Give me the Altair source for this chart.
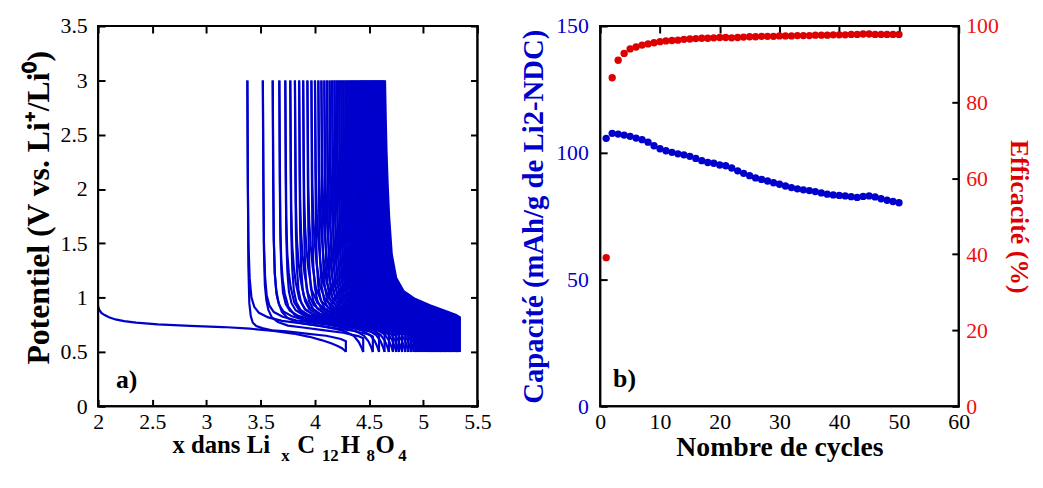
import altair as alt
import pandas as pd

# ---------------- Panel a) : galvanostatic cycling curves ----------------
first_discharge_x = [2.00, 2.01, 2.03, 2.06, 2.10, 2.16, 2.24, 2.35, 2.55, 2.85, 3.15, 3.40,
                     3.62, 3.80, 3.95, 4.06, 4.15, 4.21, 4.25, 4.28, 4.286]
first_discharge_v = [0.92, 0.89, 0.86, 0.84, 0.82, 0.80, 0.785, 0.77, 0.755, 0.74, 0.73, 0.715,
                     0.695, 0.67, 0.64, 0.61, 0.58, 0.555, 0.535, 0.51, 0.50]

charge_end_x = [3.377, 3.520, 3.611, 3.672, 3.727, 3.773, 3.816, 3.855, 3.892, 3.931,
                3.968, 4.001, 4.032, 4.060, 4.087, 4.112, 4.136, 4.159, 4.181, 4.202,
                4.223, 4.243, 4.262, 4.281, 4.299, 4.317, 4.334, 4.351, 4.367, 4.383,
                4.398, 4.413, 4.428, 4.442, 4.456, 4.470, 4.483, 4.496, 4.509, 4.522,
                4.535, 4.547, 4.559, 4.571, 4.584, 4.597, 4.609, 4.622, 4.634, 4.647]
discharge_end_x = [4.286, 4.446, 4.535, 4.592, 4.643, 4.683, 4.721, 4.751, 4.776, 4.805,
                   4.835, 4.863, 4.889, 4.913, 4.935, 4.953, 4.969, 4.986, 5.006, 5.021,
                   5.039, 5.051, 5.061, 5.071, 5.082, 5.092, 5.104, 5.116, 5.126, 5.136,
                   5.145, 5.155, 5.166, 5.176, 5.188, 5.198, 5.207, 5.216, 5.226, 5.238,
                   5.249, 5.258, 5.268, 5.283, 5.298, 5.307, 5.313, 5.321, 5.329, 5.338]
polarisation = [0.00, 0.12, 0.20, 0.27, 0.33, 0.38, 0.42, 0.46, 0.50, 0.53,
                0.56, 0.59, 0.61, 0.63, 0.65, 0.67, 0.69, 0.71, 0.72, 0.74,
                0.75, 0.76, 0.78, 0.79, 0.80, 0.81, 0.82, 0.83, 0.84, 0.85,
                0.86, 0.87, 0.88, 0.885, 0.89, 0.90, 0.91, 0.915, 0.92, 0.93,
                0.935, 0.94, 0.95, 0.955, 0.96, 0.97, 0.975, 0.98, 0.99, 1.00]

dis_frac = [0, 0.004, 0.01, 0.02, 0.035, 0.06, 0.10, 0.18, 0.30, 0.45, 0.60, 0.75, 0.85, 0.92, 0.96, 0.985, 1.0]
dis_v_early = [3.0, 2.0, 1.45, 1.15, 0.98, 0.90, 0.85, 0.81, 0.78, 0.76, 0.74, 0.71, 0.68, 0.64, 0.59, 0.54, 0.50]
dis_v_late = [3.0, 2.3, 1.75, 1.40, 1.18, 1.03, 0.94, 0.88, 0.84, 0.81, 0.79, 0.76, 0.73, 0.69, 0.63, 0.56, 0.50]
chg_frac = [0, 0.0, 0.05, 0.2, 0.4, 0.6, 0.75, 0.85, 0.91, 0.945, 0.965, 0.98, 0.99, 1.0]
chg_v_early = [0.5, 0.60, 0.62, 0.65, 0.67, 0.69, 0.70, 0.72, 0.74, 0.77, 0.83, 0.95, 1.30, 3.0]
chg_v_late = [0.5, 0.82, 0.84, 0.88, 0.93, 0.99, 1.06, 1.18, 1.40, 1.75, 2.05, 2.35, 2.65, 3.0]

a_x_labels = [2, 2.5, 3, 3.5, 4, 4.5, 5, 5.5]
a_y_labels = [0, 0.5, 1, 1.5, 2, 2.5, 3, 3.5]

# ---------------- Panel b) : capacity and efficiency ----------------
cycles = list(range(1, 51))
capacity = [105.7, 107.7, 107.4, 107.0, 106.5, 105.8, 105.2, 104.2, 102.8, 101.6,
            100.8, 100.2, 99.6, 99.2, 98.6, 97.8, 96.9, 96.2, 95.9, 95.2,
            94.9, 94.0, 92.9, 91.9, 91.0, 90.1, 89.5, 88.9, 88.2, 87.6,
            86.9, 86.3, 85.8, 85.4, 85.1, 84.7, 84.2, 83.7, 83.4, 83.2,
            83.0, 82.7, 82.4, 82.8, 83.0, 82.6, 81.9, 81.3, 80.8, 80.3]
efficiency = [39.1, 86.4, 91.0, 92.8, 94.0, 94.5, 95.0, 95.3, 95.6, 95.9,
              96.1, 96.2, 96.3, 96.5, 96.6, 96.7, 96.8, 96.8, 96.9, 97.0,
              97.0, 96.9, 97.0, 97.1, 97.2, 97.2, 97.3, 97.3, 97.3, 97.4,
              97.4, 97.4, 97.5, 97.5, 97.5, 97.6, 97.6, 97.6, 97.7, 97.7,
              97.7, 97.8, 97.8, 97.9, 97.9, 97.8, 97.8, 97.8, 97.8, 97.8]
b_x_labels = [0, 10, 20, 30, 40, 50, 60]
cap_labels = [0, 50, 100, 150]
eff_labels = [0, 20, 40, 60, 80, 100]

# ---------------- build tables ----------------
rows = []
for i, (x, v) in enumerate(zip(first_discharge_x, first_discharge_v)):
    rows.append({"seg": "d01", "i": i, "x": x, "v": v})
for n in range(50):
    wn = polarisation[n]
    if n >= 1:
        x0, x1 = charge_end_x[n - 1], discharge_end_x[n]
        for i, (g, ve, vl) in enumerate(zip(dis_frac, dis_v_early, dis_v_late)):
            rows.append({"seg": f"d{n + 1:02d}", "i": i, "x": x0 + g * (x1 - x0),
                         "v": (1 - wn) * ve + wn * vl})
    x0, x1 = discharge_end_x[n], charge_end_x[n]
    for i, (f, ve, vl) in enumerate(zip(chg_frac, chg_v_early, chg_v_late)):
        rows.append({"seg": f"c{n + 1:02d}", "i": i, "x": x0 + f * (x1 - x0),
                     "v": (1 - wn) * ve + wn * vl})
df_a = pd.DataFrame(rows)
df_b = pd.DataFrame({"cycle": cycles, "cap": capacity, "eff": efficiency})
df_a_guides = pd.DataFrame({"x": a_x_labels, "v": a_y_labels})

BLUE = "#0000CC"
RED = "#DD0000"
INK = "#000000"
FONT = "Liberation Serif"
W1, W2, H = 383, 362, 384
TICK = 7
one = pd.DataFrame({"k": [0]})


def label(txt, x, y, size=25, color="black"):
    return alt.Chart(one).mark_text(text=txt, align="left", baseline="alphabetic", font=FONT,
                                    fontSize=size, fontWeight="bold", color=color).encode(
        x=alt.value(x), y=alt.value(y))


def frame(w):
    # four filled bars drawn around the plot area
    base = alt.Chart(one).mark_rect(color=INK, opacity=1)
    return [
        base.encode(x=alt.value(-1), x2=alt.value(w + 1), y=alt.value(-1), y2=alt.value(1)),
        base.encode(x=alt.value(-1), x2=alt.value(w + 1), y=alt.value(H - 1), y2=alt.value(H + 1)),
        base.encode(x=alt.value(-1), x2=alt.value(1), y=alt.value(-1), y2=alt.value(H + 1)),
        base.encode(x=alt.value(w - 1), x2=alt.value(w + 1), y=alt.value(-1), y2=alt.value(H + 1)),
    ]


def inward(orient, values, **kw):
    # axis pulled inside the frame so that its outward ticks point into the plot
    return alt.Axis(orient=orient, values=values, offset=-TICK, tickSize=TICK, tickWidth=2,
                    tickColor=INK, tickOpacity=1, ticks=True, domain=False, grid=False,
                    labelFlush=False, labelOverlap=False, **kw)


# ---------------- left panel ----------------
xs_a = alt.Scale(domain=[2, 5.5], nice=False, zero=False)
ys_a = alt.Scale(domain=[0, 3.5], nice=False)

curves = alt.Chart(df_a).mark_line(color=BLUE, strokeWidth=2.2).encode(
    x=alt.X("x:Q", scale=xs_a, axis=inward("bottom", a_x_labels, format="~g", title=None, labelPadding=5)),
    y=alt.Y("v:Q", scale=ys_a, axis=inward("left", a_y_labels, format="~g",
                                           title="Potentiel (V vs. Li⁺/Li⁰)", titleFontSize=32,
                                           labelPadding=11, titlePadding=5, titleY=183)),
    detail="seg:N", order="i:Q")
a_guides = alt.Chart(df_a_guides).mark_point(opacity=0).encode(
    x=alt.X("x:Q", scale=xs_a, axis=inward("top", a_x_labels, labels=False, title=None)),
    y=alt.Y("v:Q", scale=ys_a, axis=inward("right", a_y_labels, labels=False, title=None)))

a_title = [
    label("x dans Li", 75, 431),
    label("x", 185, 439, 17),
    label("C", 201, 431),
    label("12", 226, 439, 17),
    label("H", 245, 431),
    label("8", 271, 439, 17),
    label("O", 280, 431),
    label("4", 303, 439, 17),
]
left = alt.layer(curves, a_guides, *frame(W1), label("a)", 18, 365, 26), *a_title).resolve_axis(
    x="independent", y="independent").properties(width=W1, height=H)

# ---------------- right panel ----------------
xs_b = alt.Scale(domain=[0, 60], nice=False)
cap_s = alt.Scale(domain=[0, 150], nice=False)
eff_s = alt.Scale(domain=[0, 100], nice=False)

cap_pts = alt.Chart(df_b).mark_circle(size=55, color=BLUE, opacity=1).encode(
    x=alt.X("cycle:Q", scale=xs_b,
            axis=alt.Axis(values=b_x_labels, title="Nombre de cycles", titleFontSize=28, labelFlush=False,
                          labelOverlap=False, ticks=False, domain=False, grid=False,
                          labelPadding=5, titlePadding=2)),
    y=alt.Y("cap:Q", scale=cap_s,
            axis=inward("left", cap_labels, title="Capacité (mAh/g de Li2-NDC)", titleFontSize=29,
                        titleColor=BLUE, labelColor=BLUE, labelPadding=12, titlePadding=7)))
eff_pts = alt.Chart(df_b).mark_circle(size=55, color=RED, opacity=1).encode(
    x=alt.X("cycle:Q", scale=xs_b, axis=inward("top", b_x_labels, labels=False, title=None)),
    y=alt.Y("eff:Q", scale=eff_s,
            axis=inward("right", eff_labels, title="Efficacité (%)", titleFontSize=26,
                        titleColor=RED, labelColor="#EE1111", labelPadding=7, titlePadding=7)))

right = alt.layer(cap_pts, eff_pts, *frame(W2), label("b)", 13, 364, 26)).resolve_scale(
    y="independent").resolve_axis(x="independent", y="independent").properties(width=W2, height=H)

chart = alt.hconcat(left, right, spacing=27).properties(
    padding={"left": 13, "top": 4, "right": 3, "bottom": 0}
).configure_view(stroke=INK, strokeWidth=2).configure_axis(
    labelFont=FONT, titleFont=FONT, labelFontSize=22, titleFontSize=26, titleFontWeight="bold",
    labelColor="black", titleColor="black"
)

chart.save("out.html", embed_options={"renderer": "svg", "actions": False})
